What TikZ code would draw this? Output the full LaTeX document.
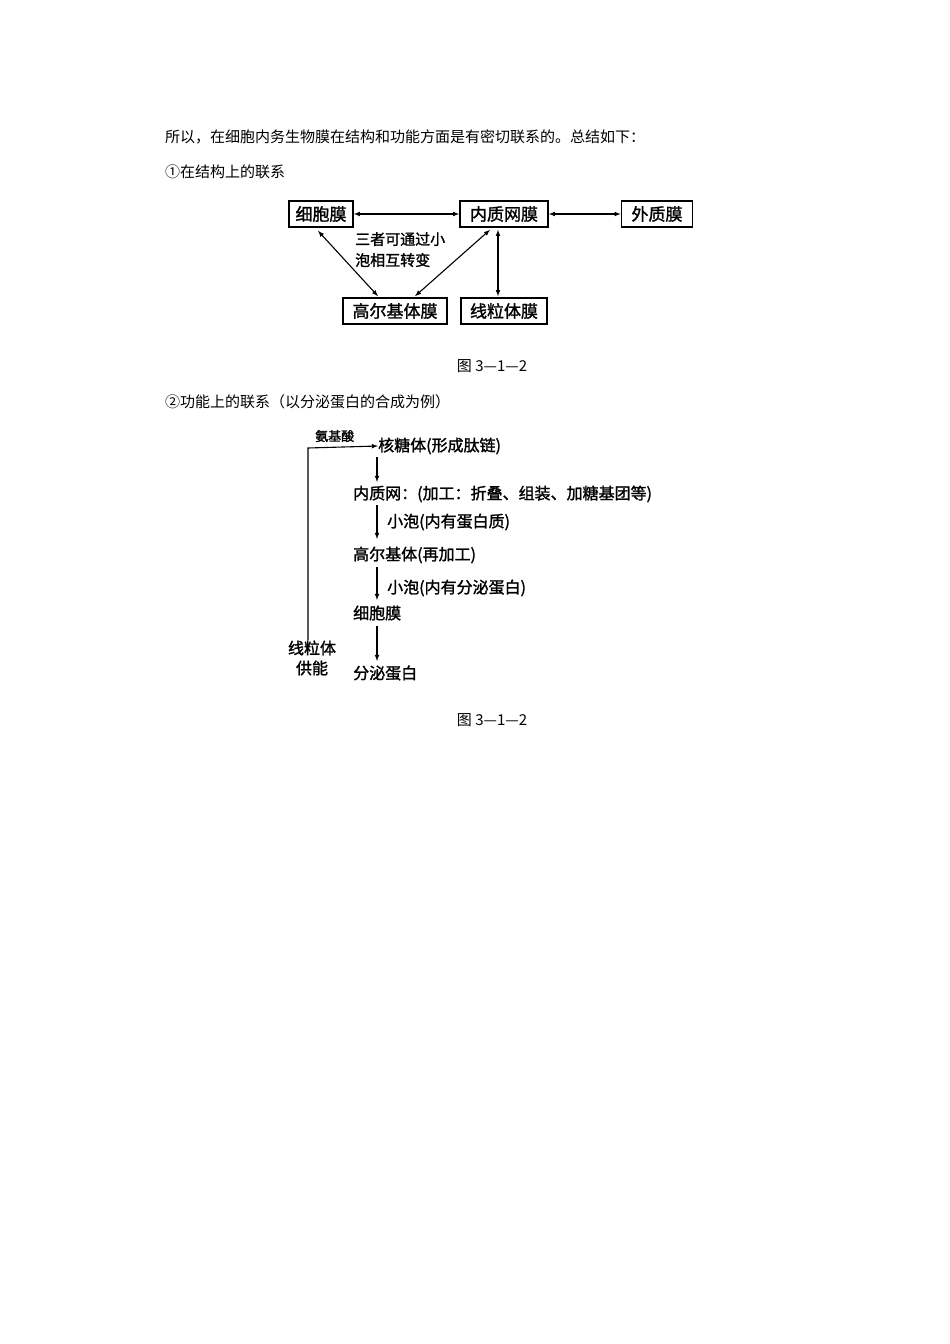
\documentclass[tikz,border=0pt]{standalone}
\usepackage{fontspec}
\usetikzlibrary{calc}
\setmainfont{Noto Sans CJK SC}
\newfontfamily\cjkb{Noto Sans CJK SC}[FakeBold=1.5]
\begin{document}
\begin{tikzpicture}[x=1pt,y=-1pt,
  txt/.style={anchor=west,inner sep=0pt,font=\fontsize{15}{17}\selectfont},
  bx/.style={draw,line width=1.6pt,inner sep=2pt,minimum height=26pt,font=\cjkb\fontsize{17}{19}\selectfont},
  ft/.style={anchor=west,inner sep=0pt,font=\cjkb\fontsize{16}{18}\selectfont},
  dar/.style={<->,>=latex,line width=1.1pt},
  sar/.style={->,>=latex,line width=1.1pt}]
\useasboundingbox (0,0) rectangle (950,1344);
\node[txt] (h1) at (165,137) {所以，在细胞内务生物膜在结构和功能方面是有密切联系的。总结如下：};
\node[txt] (h2) at (165,172) {①在结构上的联系};
\node[bx,minimum width=64pt] (xb) at (321,214) {细胞膜};
\node[bx,minimum width=88pt] (nz) at (504,214) {内质网膜};
\node[bx,minimum width=71pt] (wz) at (657,214) {外质膜};
\node[bx,minimum width=104pt] (ge) at (395,311) {高尔基体膜};
\node[bx,minimum width=86pt] (xl) at (504,311) {线粒体膜};
\node[ft,align=left,anchor=north west,font=\cjkb\fontsize{15}{21}\selectfont] (lab) at (355,232) {三者可通过小\\泡相互转变};
\draw[dar] (xb.east) -- (nz.west);
\draw[dar] (nz.east) -- (wz.west);
\draw[dar] ($(xb.south)+(-3,3)$) -- ($(ge.north)+(-17,-1)$);
\draw[dar] ($(nz.south)+(-14,2)$) -- ($(ge.north)+(20,-1)$);
\draw[dar] ($(nz.south)+(-6,2)$) -- ($(xl.north)+(-6,-1)$);
\node[txt,anchor=center] (c1) at (492,366) {图 3—1—2};
\node[txt] (h3) at (165,402) {②功能上的联系（以分泌蛋白的合成为例）};
\node[ft,font=\cjkb\fontsize{13}{15}\selectfont] (aa) at (315,436) {氨基酸};
\node[ft] (r1) at (378,446) {核糖体(形成肽链)};
\node[ft] (r2) at (353,494) {内质网：(加工：折叠、组装、加糖基团等)};
\node[ft] (l2) at (387,522) {小泡(内有蛋白质)};
\node[ft] (r3) at (353,555) {高尔基体(再加工)};
\node[ft] (l3) at (387,588) {小泡(内有分泌蛋白)};
\node[ft] (r4) at (353,613) {细胞膜};
\node[ft] (r5) at (353,673) {分泌蛋白};
\node[ft,anchor=center,align=center,font=\cjkb\fontsize{16}{20}\selectfont] (mt) at (312,658) {线粒体\\供能};
\coordinate (k1) at (308,448);
\draw[sar] (mt.north -| k1) -- (k1) -- (r1.west);
\draw[sar] (377,457) -- (377,482);
\draw[sar] (377,505) -- (377,539);
\draw[sar] (377,567) -- (377,600);
\draw[sar] (377,626) -- (377,661);
\node[txt,anchor=center] (c2) at (492,720) {图 3—1—2};
\end{tikzpicture}
\end{document}
